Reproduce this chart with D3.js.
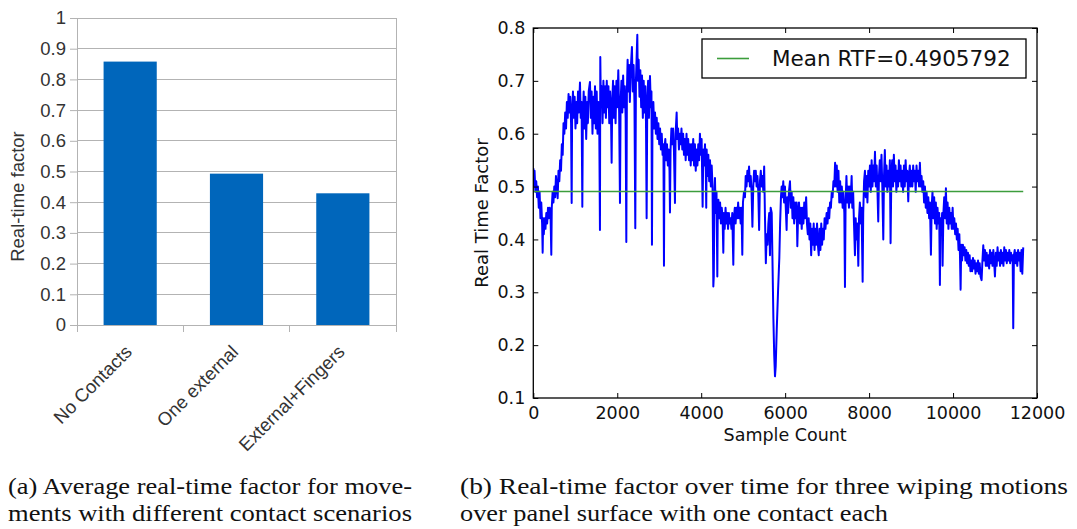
<!DOCTYPE html>
<html>
<head>
<meta charset="utf-8">
<script src="https://cdn.jsdelivr.net/npm/d3@7"></script>
<style>
  html, body { margin: 0; padding: 0; background: #fff; }
  svg { display: block; }
</style>
</head>
<body>
<svg id="chart" width="1077" height="529"></svg>
<script>
// ---------- Data: panel (a) ----------
const barCategories = ["No Contacts", "One external", "External+Fingers"];
const barValues = [0.858, 0.493, 0.429];
const barTickValues = [0, 0.1, 0.2, 0.3, 0.4, 0.5, 0.6, 0.7, 0.8, 0.9, 1];
const barTickLabels = ["0", "0.1", "0.2", "0.3", "0.4", "0.5", "0.6", "0.7", "0.8", "0.9", "1"];

// ---------- Data: panel (b) ----------
const meanRTF = 0.4905792;
const lineXTicks = [0, 2000, 4000, 6000, 8000, 10000, 12000];
const lineYTicks = [0.1, 0.2, 0.3, 0.4, 0.5, 0.6, 0.7, 0.8];
const lineYTickLabels = ["0.1", "0.2", "0.3", "0.4", "0.5", "0.6", "0.7", "0.8"];
const rtfSeries = [
[0,0.535],[15,0.50],[30,0.53],[50,0.49],[70,0.51],[90,0.48],[110,0.50],[130,0.46],[150,0.49],[170,0.44],[190,0.47],[210,0.43],[223,0.375],[235,0.44],[250,0.41],[270,0.44],[290,0.42],[310,0.45],[330,0.43],[350,0.46],[370,0.44],[390,0.46],[410,0.45],[429,0.371],[440,0.46],[460,0.49],[480,0.47],[500,0.50],[520,0.48],[540,0.52],[560,0.50],[580,0.478],[600,0.53],[620,0.51],[640,0.55],[660,0.53],[680,0.58],[700,0.56],[720,0.62],[740,0.60],[760,0.64],[780,0.61],[800,0.66],[820,0.63],[840,0.675],[860,0.64],[880,0.67],[900,0.62],[914,0.469],[925,0.64],[945,0.68],[965,0.63],[985,0.67],[1005,0.61],[1025,0.66],[1045,0.62],[1065,0.68],[1085,0.64],[1112,0.697],[1130,0.63],[1150,0.66],[1168,0.462],[1180,0.62],[1200,0.68],[1220,0.61],[1240,0.67],[1260,0.59],[1280,0.66],[1300,0.62],[1320,0.68],[1350,0.698],[1370,0.63],[1390,0.68],[1410,0.60],[1430,0.67],[1450,0.62],[1470,0.69],[1490,0.61],[1510,0.68],[1530,0.60],[1550,0.66],[1570,0.63],[1588,0.418],[1596,0.745],[1610,0.65],[1630,0.69],[1650,0.62],[1670,0.70],[1690,0.64],[1710,0.69],[1730,0.63],[1750,0.70],[1770,0.65],[1790,0.69],[1810,0.62],[1830,0.68],[1850,0.64],[1866,0.545],[1880,0.66],[1900,0.70],[1920,0.63],[1940,0.69],[1960,0.62],[1980,0.70],[2000,0.65],[2025,0.72],[2045,0.64],[2065,0.469],[2080,0.66],[2100,0.70],[2120,0.64],[2140,0.71],[2160,0.65],[2180,0.69],[2200,0.63],[2216,0.395],[2230,0.68],[2247,0.74],[2265,0.68],[2285,0.73],[2300,0.66],[2320,0.72],[2350,0.764],[2370,0.68],[2390,0.73],[2410,0.66],[2430,0.421],[2445,0.70],[2460,0.74],[2478,0.787],[2490,0.70],[2510,0.74],[2530,0.67],[2550,0.72],[2570,0.65],[2590,0.71],[2610,0.63],[2630,0.70],[2650,0.64],[2670,0.69],[2685,0.62],[2700,0.44],[2715,0.66],[2735,0.70],[2755,0.63],[2780,0.709],[2800,0.65],[2815,0.68],[2827,0.39],[2840,0.64],[2860,0.66],[2880,0.61],[2900,0.64],[2920,0.60],[2940,0.63],[2960,0.59],[2980,0.62],[3000,0.58],[3020,0.61],[3040,0.57],[3060,0.60],[3080,0.56],[3100,0.58],[3113,0.35],[3125,0.57],[3145,0.59],[3165,0.55],[3185,0.58],[3205,0.54],[3225,0.57],[3245,0.53],[3256,0.451],[3270,0.57],[3290,0.61],[3310,0.58],[3330,0.61],[3350,0.57],[3375,0.469],[3390,0.60],[3415,0.64],[3430,0.59],[3450,0.61],[3470,0.57],[3490,0.60],[3510,0.58],[3530,0.61],[3550,0.57],[3570,0.60],[3590,0.56],[3610,0.59],[3630,0.55],[3650,0.60],[3670,0.56],[3690,0.59],[3710,0.55],[3730,0.58],[3750,0.54],[3770,0.58],[3790,0.55],[3810,0.59],[3830,0.54],[3850,0.58],[3870,0.53],[3890,0.57],[3910,0.54],[3930,0.58],[3950,0.55],[3970,0.60],[3990,0.56],[4010,0.59],[4034,0.462],[4050,0.57],[4070,0.54],[4090,0.58],[4110,0.53],[4120,0.46],[4130,0.57],[4150,0.52],[4170,0.56],[4190,0.51],[4210,0.55],[4230,0.50],[4250,0.54],[4270,0.50],[4289,0.311],[4300,0.33],[4315,0.48],[4328,0.516],[4345,0.45],[4365,0.49],[4384,0.33],[4395,0.46],[4410,0.475],[4430,0.44],[4450,0.47],[4470,0.43],[4490,0.46],[4510,0.44],[4527,0.375],[4540,0.45],[4560,0.42],[4580,0.46],[4600,0.43],[4620,0.45],[4640,0.42],[4660,0.45],[4680,0.43],[4700,0.44],[4720,0.42],[4740,0.45],[4765,0.352],[4780,0.44],[4800,0.46],[4820,0.43],[4840,0.46],[4860,0.44],[4880,0.47],[4900,0.44],[4920,0.46],[4940,0.43],[4960,0.46],[4979,0.371],[4995,0.47],[5020,0.49],[5043,0.48],[5060,0.52],[5080,0.50],[5100,0.53],[5120,0.51],[5140,0.538],[5160,0.50],[5180,0.52],[5200,0.49],[5220,0.424],[5240,0.50],[5260,0.53],[5280,0.51],[5300,0.53],[5320,0.50],[5340,0.52],[5360,0.49],[5380,0.418],[5400,0.51],[5420,0.53],[5440,0.50],[5460,0.52],[5480,0.49],[5500,0.538],[5520,0.44],[5540,0.355],[5560,0.41],[5580,0.39],[5600,0.43],[5620,0.45],[5638,0.37],[5655,0.46],[5680,0.45],[5700,0.35],[5720,0.25],[5740,0.18],[5758,0.141],[5775,0.16],[5800,0.23],[5830,0.30],[5861,0.365],[5880,0.43],[5900,0.48],[5916,0.50],[5935,0.48],[5955,0.51],[5975,0.47],[5995,0.50],[6015,0.46],[6035,0.418],[6050,0.48],[6070,0.45],[6090,0.49],[6115,0.51],[6135,0.46],[6155,0.49],[6175,0.44],[6195,0.48],[6215,0.43],[6235,0.47],[6255,0.44],[6274,0.47],[6290,0.387],[6310,0.45],[6330,0.47],[6353,0.43],[6375,0.46],[6395,0.42],[6415,0.46],[6435,0.43],[6455,0.47],[6475,0.44],[6500,0.48],[6520,0.43],[6540,0.41],[6560,0.44],[6580,0.40],[6600,0.43],[6620,0.37],[6640,0.42],[6660,0.39],[6680,0.43],[6700,0.38],[6720,0.42],[6740,0.39],[6760,0.43],[6780,0.39],[6800,0.37],[6820,0.42],[6840,0.38],[6860,0.43],[6880,0.39],[6900,0.42],[6920,0.40],[6940,0.44],[6960,0.42],[6988,0.45],[7010,0.43],[7030,0.46],[7050,0.44],[7070,0.47],[7090,0.46],[7110,0.49],[7130,0.48],[7150,0.51],[7170,0.50],[7190,0.545],[7210,0.50],[7230,0.54],[7250,0.49],[7270,0.53],[7290,0.47],[7310,0.51],[7330,0.47],[7350,0.50],[7370,0.46],[7385,0.49],[7410,0.45],[7425,0.31],[7440,0.47],[7460,0.52],[7480,0.47],[7500,0.50],[7520,0.46],[7540,0.50],[7560,0.47],[7584,0.52],[7600,0.46],[7620,0.49],[7640,0.43],[7663,0.37],[7680,0.44],[7700,0.40],[7720,0.43],[7743,0.35],[7760,0.44],[7780,0.47],[7800,0.43],[7820,0.46],[7846,0.32],[7860,0.45],[7880,0.51],[7901,0.53],[7920,0.48],[7940,0.52],[7960,0.47],[7980,0.53],[8000,0.50],[8020,0.54],[8040,0.49],[8060,0.55],[8080,0.50],[8100,0.54],[8120,0.51],[8140,0.566],[8160,0.50],[8180,0.54],[8200,0.49],[8218,0.434],[8235,0.52],[8255,0.55],[8275,0.51],[8295,0.56],[8315,0.50],[8338,0.40],[8355,0.52],[8375,0.569],[8395,0.50],[8415,0.54],[8435,0.49],[8455,0.53],[8475,0.50],[8495,0.55],[8512,0.393],[8530,0.52],[8550,0.55],[8570,0.50],[8590,0.56],[8610,0.51],[8630,0.54],[8650,0.49],[8670,0.53],[8690,0.50],[8710,0.55],[8730,0.51],[8750,0.54],[8770,0.50],[8790,0.53],[8810,0.49],[8830,0.54],[8850,0.50],[8870,0.55],[8890,0.51],[8910,0.53],[8933,0.472],[8950,0.52],[8970,0.54],[8990,0.50],[9010,0.53],[9030,0.50],[9050,0.54],[9070,0.51],[9090,0.53],[9110,0.49],[9130,0.54],[9150,0.51],[9170,0.53],[9190,0.50],[9210,0.545],[9230,0.50],[9250,0.52],[9270,0.49],[9290,0.51],[9310,0.47],[9330,0.50],[9350,0.46],[9370,0.49],[9390,0.45],[9410,0.48],[9430,0.44],[9450,0.47],[9473,0.371],[9490,0.46],[9510,0.49],[9530,0.44],[9550,0.48],[9570,0.43],[9590,0.47],[9610,0.42],[9630,0.46],[9650,0.43],[9670,0.45],[9687,0.314],[9700,0.44],[9720,0.418],[9740,0.45],[9751,0.35],[9770,0.45],[9790,0.48],[9810,0.44],[9830,0.497],[9850,0.43],[9870,0.47],[9890,0.42],[9910,0.46],[9930,0.43],[9950,0.45],[9970,0.42],[9990,0.46],[10010,0.42],[10030,0.44],[10050,0.41],[10070,0.43],[10090,0.40],[10110,0.42],[10130,0.38],[10150,0.41],[10165,0.37],[10180,0.305],[10195,0.39],[10215,0.36],[10235,0.39],[10255,0.37],[10275,0.385],[10295,0.36],[10315,0.38],[10335,0.355],[10355,0.375],[10375,0.35],[10395,0.37],[10415,0.34],[10435,0.36],[10455,0.34],[10475,0.365],[10495,0.345],[10515,0.36],[10535,0.335],[10555,0.355],[10575,0.34],[10595,0.36],[10615,0.335],[10635,0.355],[10655,0.33],[10680,0.323],[10700,0.36],[10720,0.389],[10740,0.36],[10760,0.38],[10780,0.35],[10800,0.375],[10820,0.35],[10840,0.37],[10860,0.345],[10880,0.38],[10900,0.355],[10920,0.375],[10940,0.35],[10960,0.38],[10980,0.355],[10998,0.33],[11020,0.375],[11040,0.35],[11060,0.385],[11080,0.36],[11100,0.375],[11120,0.35],[11140,0.38],[11160,0.355],[11180,0.375],[11200,0.35],[11220,0.385],[11240,0.36],[11260,0.38],[11280,0.355],[11300,0.375],[11320,0.36],[11340,0.38],[11360,0.355],[11380,0.375],[11400,0.36],[11420,0.37],[11434,0.232],[11450,0.37],[11470,0.38],[11490,0.355],[11510,0.375],[11530,0.35],[11550,0.38],[11570,0.36],[11590,0.375],[11610,0.34],[11630,0.38],[11650,0.335],[11672,0.385]
];

// ---------- Captions ----------
const captionA = ["(a) Average real-time factor for move-", "ments with different contact scenarios"];
const captionB = ["(b) Real-time factor over time for three wiping motions", "over panel surface with one contact each"];

const svg = d3.select("#chart");
svg.append("rect").attr("width", 1077).attr("height", 529).attr("fill", "#fff");

// ================= Panel (a) =================
const A = { left: 77, right: 396, top: 18, bottom: 325 };
const xA = d3.scaleBand().domain(barCategories).range([A.left, A.right]).paddingInner(0.5).paddingOuter(0.25);
const yA = d3.scaleLinear().domain([0, 1]).range([A.bottom, A.top]);
const gA = svg.append("g").attr("font-family", "'Liberation Sans', Arial, sans-serif");

// gridlines
gA.append("g").selectAll("line").data(barTickValues).join("line")
  .attr("x1", A.left).attr("x2", A.right)
  .attr("y1", d => yA(d)).attr("y2", d => yA(d))
  .attr("stroke", "#b3b3b3").attr("stroke-width", 1).attr("shape-rendering", "crispEdges");
// right border
gA.append("line").attr("x1", A.right).attr("x2", A.right).attr("y1", A.top).attr("y2", A.bottom + 7)
  .attr("stroke", "#b3b3b3").attr("shape-rendering", "crispEdges");

// bars
gA.append("g").selectAll("rect").data(barValues).join("rect")
  .attr("x", (d, i) => xA(barCategories[i]))
  .attr("width", xA.bandwidth())
  .attr("y", d => yA(d))
  .attr("height", d => yA(0) - yA(d))
  .attr("fill", "#0066bb");

// y axis
const axA = d3.axisLeft(yA).tickValues(barTickValues).tickSize(7).tickPadding(4)
  .tickFormat((d, i) => barTickLabels[i]);
const gyA = gA.append("g").attr("transform", `translate(${A.left},0)`).call(axA);
gyA.select(".domain").attr("stroke", "#b3b3b3");
gyA.selectAll(".tick line").attr("stroke", "#b3b3b3");
gyA.selectAll(".tick text").attr("font-size", 18.5).attr("fill", "#333").attr("font-family", "'Liberation Sans', Arial, sans-serif");

// x axis (category boundary ticks)
const bounds = [A.left].concat(barCategories.map(c => xA(c) + xA.bandwidth() / 2 + xA.step() / 2));
gA.append("line").attr("x1", A.left).attr("x2", A.right).attr("y1", A.bottom).attr("y2", A.bottom)
  .attr("stroke", "#b3b3b3").attr("shape-rendering", "crispEdges");
gA.append("g").selectAll("line").data(bounds).join("line")
  .attr("x1", d => d).attr("x2", d => d).attr("y1", A.bottom).attr("y2", A.bottom + 7)
  .attr("stroke", "#b3b3b3").attr("shape-rendering", "crispEdges");
gA.append("g").selectAll("text").data(barCategories).join("text")
  .attr("transform", d => `translate(${xA(d) + xA.bandwidth() / 2 + 3},${A.bottom + 28}) rotate(-45)`)
  .attr("text-anchor", "end")
  .attr("font-size", 18.5).attr("fill", "#333")
  .text(d => d);

// y label
gA.append("text")
  .attr("transform", `translate(24,${(A.top + A.bottom) / 2 + 25}) rotate(-90)`)
  .attr("text-anchor", "middle").attr("font-size", 18.5).attr("fill", "#333")
  .text("Real-time factor");

// ================= Panel (b) =================
const B = { left: 533.3, right: 1037, top: 28, bottom: 398 };
const xB = d3.scaleLinear().domain([0, 12000]).range([B.left, B.right]);
const yB = d3.scaleLinear().domain([0.1, 0.8]).range([B.bottom, B.top]);
const gB = svg.append("g").attr("font-family", "'DejaVu Sans', 'Bitstream Vera Sans', sans-serif");

gB.append("defs").append("clipPath").attr("id", "clipB").append("rect")
  .attr("x", B.left).attr("y", B.top).attr("width", B.right - B.left).attr("height", B.bottom - B.top);

// data line
const lineGen = d3.line().x(d => xB(d[0])).y(d => yB(d[1]));
gB.append("path").datum(rtfSeries)
  .attr("clip-path", "url(#clipB)")
  .attr("d", lineGen).attr("fill", "none").attr("stroke", "#0000ff")
  .attr("stroke-width", 2).attr("stroke-linejoin", "round");

// mean line
gB.append("line")
  .attr("x1", xB(rtfSeries[0][0])).attr("x2", xB(rtfSeries[rtfSeries.length - 1][0]))
  .attr("y1", yB(meanRTF)).attr("y2", yB(meanRTF))
  .attr("stroke", "#3c9d3c").attr("stroke-width", 1.6);

// axes with inward ticks on all sides
const tickLen = 5;
const axBottom = d3.axisBottom(xB).tickValues(lineXTicks).tickSize(-tickLen).tickPadding(9).tickFormat(d3.format("d"));
const axTop = d3.axisTop(xB).tickValues(lineXTicks).tickSize(-tickLen).tickFormat("");
const axLeft = d3.axisLeft(yB).tickValues(lineYTicks).tickSize(-tickLen).tickPadding(8).tickFormat((d, i) => lineYTickLabels[i]);
const axRight = d3.axisRight(yB).tickValues(lineYTicks).tickSize(-tickLen).tickFormat("");

const gxb = gB.append("g").attr("transform", `translate(0,${B.bottom})`).call(axBottom);
const gxt = gB.append("g").attr("transform", `translate(0,${B.top})`).call(axTop);
const gyl = gB.append("g").attr("transform", `translate(${B.left},0)`).call(axLeft);
const gyr = gB.append("g").attr("transform", `translate(${B.right},0)`).call(axRight);
[gxb, gxt, gyl, gyr].forEach(g => {
  g.select(".domain").remove();
  g.selectAll(".tick line").attr("stroke", "#000").attr("stroke-width", 1);
  g.selectAll(".tick text").attr("font-size", 17.5).attr("fill", "#111")
    .attr("font-family", "'DejaVu Sans', sans-serif");
});
// frame
gB.append("rect").attr("x", B.left).attr("y", B.top)
  .attr("width", B.right - B.left).attr("height", B.bottom - B.top)
  .attr("fill", "none").attr("stroke", "#000").attr("stroke-width", 1.3);

// axis labels
gB.append("text").attr("x", (B.left + B.right) / 2).attr("y", 441)
  .attr("text-anchor", "middle").attr("font-size", 17.5).attr("fill", "#111")
  .text("Sample Count");
gB.append("text")
  .attr("transform", `translate(488,${(B.top + B.bottom) / 2}) rotate(-90)`)
  .attr("text-anchor", "middle").attr("font-size", 18).attr("fill", "#111")
  .text("Real Time Factor");

// legend
const lg = gB.append("g");
lg.append("rect").attr("x", 702).attr("y", 39).attr("width", 324).attr("height", 39)
  .attr("fill", "#fff").attr("stroke", "#000").attr("stroke-width", 1.3);
lg.append("line").attr("x1", 717).attr("x2", 749).attr("y1", 58.5).attr("y2", 58.5)
  .attr("stroke", "#3c9d3c").attr("stroke-width", 1.6);
lg.append("text").attr("x", 772).attr("y", 65.5).attr("font-size", 21.5).attr("fill", "#111")
  .text("Mean RTF=" + meanRTF);

// ================= Captions =================
const capG = svg.append("g").attr("font-family", "'Liberation Serif', 'Times New Roman', serif")
  .attr("font-size", 23).attr("fill", "#111");
const capSpecs = [
  { x: 8, y: 494, len: 404, t: captionA[0] },
  { x: 8, y: 521, len: 404, t: captionA[1] },
  { x: 460, y: 494, len: 608, t: captionB[0] },
  { x: 460, y: 521, len: 428, t: captionB[1] }
];
capG.selectAll("text").data(capSpecs).join("text")
  .attr("x", d => d.x).attr("y", d => d.y)
  .attr("textLength", d => d.len).attr("lengthAdjust", "spacingAndGlyphs")
  .text(d => d.t);
</script>
</body>
</html>
